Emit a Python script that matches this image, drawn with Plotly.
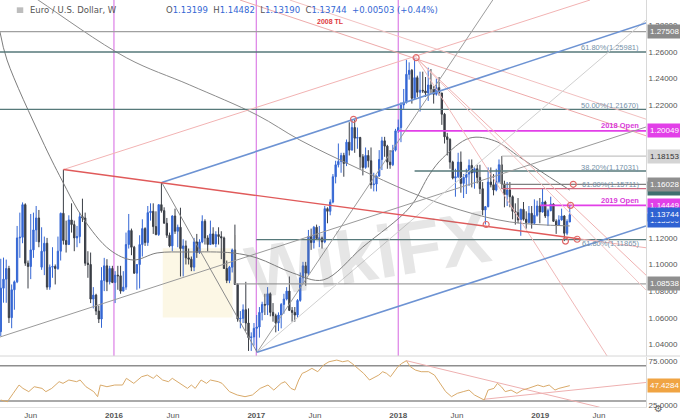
import pandas as pd
import plotly.graph_objects as go

# ---- weekly EUR/USD candles, week of 2015-03-16 .. week of 2019-03-18 ----
opens = [
    # 2015
    1.0495, 1.0822, 1.0890, 1.0970, 1.0600, 1.0810, 1.0870, 1.1200, 1.1205, 1.1450,
    1.1010, 1.0985, 1.1110, 1.1260, 1.1350, 1.0980, 1.1100, 1.1160, 1.0830, 1.0980,
    1.0985, 1.0970, 1.1100, 1.1385, 1.1180, 1.1150, 1.1335, 1.1300, 1.1200, 1.1210,
    1.1360, 1.1350, 1.1010, 1.1000, 1.0740, 1.0770, 1.0650, 1.0590, 1.0880, 1.0990,
    1.0870, 1.0970,
    # 2016
    1.0865, 1.0920, 1.0915, 1.0800, 1.0830, 1.1150, 1.1255, 1.1130, 1.0935, 1.1000,
    1.1150, 1.1270, 1.1165, 1.1390, 1.1400, 1.1285, 1.1225, 1.1450, 1.1405, 1.1310,
    1.1220, 1.1140, 1.1365, 1.1250, 1.1280, 1.1120, 1.1140, 1.1050, 1.1040, 1.0980,
    1.1170, 1.1090, 1.1170, 1.1325, 1.1200, 1.1150, 1.1230, 1.1155, 1.1225, 1.1210,
    1.1200, 1.0970, 1.0880, 1.0980, 1.1110, 1.0850, 1.0590, 1.0595, 1.0660, 1.0560,
    1.0450, 1.0455,
    # 2017
    1.0520, 1.0530, 1.0640, 1.0700, 1.0695, 1.0780, 1.0640, 1.0615, 1.0560, 1.0620,
    1.0700, 1.0740, 1.0800, 1.0655, 1.0640, 1.0620, 1.0730, 1.0900, 1.0990, 1.0935,
    1.1210, 1.1165, 1.1280, 1.1195, 1.1200, 1.1170, 1.1420, 1.1400, 1.1470, 1.1660,
    1.1750, 1.1775, 1.1820, 1.1760, 1.1920, 1.1860, 1.2030, 1.1950, 1.1955, 1.1810,
    1.1730, 1.1820, 1.1780, 1.1600, 1.1605, 1.1665, 1.1790, 1.1930, 1.1890, 1.1770,
    1.1750, 1.1860,
    # 2018
    1.2005, 1.2030, 1.2200, 1.2220, 1.2430, 1.2460, 1.2250, 1.2405, 1.2295, 1.2310,
    1.2305, 1.2290, 1.2350, 1.2320, 1.2280, 1.2330, 1.2290, 1.2130, 1.1960, 1.1940,
    1.1770, 1.1650, 1.1660, 1.1770, 1.1610, 1.1655, 1.1680, 1.1745, 1.1690, 1.1720,
    1.1655, 1.1570, 1.1410, 1.1435, 1.1620, 1.1600, 1.1560, 1.1625, 1.1750, 1.1605,
    1.1525, 1.1560, 1.1510, 1.1400, 1.1390, 1.1335, 1.1415, 1.1340, 1.1315, 1.1385,
    1.1310, 1.1370, 1.1440,
    # 2019
    1.1395, 1.1470, 1.1365, 1.1405, 1.1455, 1.1325, 1.1295, 1.1335, 1.1365, 1.1235,
    1.13199,
]
highs = [
    1.1043, 1.1052, 1.1037, 1.0990, 1.0850, 1.0880, 1.1290, 1.1390, 1.1467, 1.1460,
    1.1030, 1.1380, 1.1390, 1.1440, 1.1410, 1.1280, 1.1210, 1.1200, 1.1000, 1.1130,
    1.1000, 1.1210, 1.1390, 1.1714, 1.1330, 1.1370, 1.1460, 1.1330, 1.1290, 1.1390,
    1.1495, 1.1390, 1.1100, 1.1090, 1.0830, 1.0780, 1.0690, 1.0980, 1.1050, 1.1040,
    1.0990, 1.0990,
    1.0950, 1.0990, 1.0990, 1.0950, 1.1240, 1.1380, 1.1270, 1.1140, 1.1000, 1.1220,
    1.1340, 1.1280, 1.1440, 1.1460, 1.1460, 1.1400, 1.1450, 1.1616, 1.1430, 1.1350,
    1.1240, 1.1370, 1.1420, 1.1300, 1.1427, 1.1190, 1.1180, 1.1120, 1.1060, 1.1200,
    1.1230, 1.1190, 1.1370, 1.1340, 1.1220, 1.1330, 1.1280, 1.1250, 1.1280, 1.1250,
    1.1210, 1.1030, 1.0990, 1.1120, 1.1300, 1.0860, 1.0650, 1.0700, 1.0870, 1.0670,
    1.0490, 1.0560,
    1.0620, 1.0680, 1.0720, 1.0780, 1.0830, 1.0790, 1.0710, 1.0630, 1.0640, 1.0710,
    1.0780, 1.0830, 1.0910, 1.0680, 1.0680, 1.0740, 1.0940, 1.1020, 1.1020, 1.1260,
    1.1270, 1.1290, 1.1300, 1.1290, 1.1210, 1.1440, 1.1430, 1.1490, 1.1680, 1.1780,
    1.1910, 1.1840, 1.1840, 1.1940, 1.2070, 1.2092, 1.2090, 1.2030, 1.1960, 1.1830,
    1.1880, 1.1860, 1.1880, 1.1690, 1.1670, 1.1860, 1.1960, 1.1960, 1.1900, 1.1860,
    1.1900, 1.2020,
    1.2090, 1.2220, 1.2320, 1.2540, 1.2520, 1.2470, 1.2555, 1.2420, 1.2450, 1.2450,
    1.2410, 1.2480, 1.2470, 1.2340, 1.2400, 1.2410, 1.2290, 1.2140, 1.1990, 1.1950,
    1.1780, 1.1720, 1.1840, 1.1850, 1.1680, 1.1720, 1.1790, 1.1790, 1.1730, 1.1750,
    1.1750, 1.1620, 1.1440, 1.1730, 1.1730, 1.1680, 1.1720, 1.1790, 1.1815, 1.1630,
    1.1620, 1.1620, 1.1520, 1.1460, 1.1500, 1.1420, 1.1470, 1.1400, 1.1440, 1.1440,
    1.1490, 1.1480, 1.1500,
    1.1570, 1.1480, 1.1420, 1.1510, 1.1460, 1.1340, 1.1370, 1.1420, 1.1370, 1.1340,
    1.14482,
]
lows = [
    1.0462, 1.0713, 1.0712, 1.0560, 1.0521, 1.0660, 1.0860, 1.1050, 1.1160, 1.0990,
    1.0820, 1.0890, 1.1050, 1.1170, 1.1130, 1.0960, 1.0920, 1.0810, 1.0810, 1.0900,
    1.0850, 1.0960, 1.1030, 1.1150, 1.1090, 1.1150, 1.1240, 1.1100, 1.1130, 1.1160,
    1.1320, 1.0990, 1.0900, 1.0710, 1.0670, 1.0620, 1.0560, 1.0524, 1.0800, 1.0800,
    1.0850, 1.0860,
    1.0710, 1.0810, 1.0780, 1.0800, 1.0810, 1.1120, 1.1070, 1.0930, 1.0810, 1.0820,
    1.1060, 1.1140, 1.1140, 1.1330, 1.1230, 1.1220, 1.1215, 1.1390, 1.1310, 1.1200,
    1.1130, 1.1100, 1.1230, 1.1130, 1.0910, 1.0910, 1.1000, 1.1000, 1.0950, 1.0950,
    1.1050, 1.1080, 1.1160, 1.1150, 1.1100, 1.1150, 1.1150, 1.1130, 1.1150, 1.1040,
    1.0970, 1.0860, 1.0860, 1.0940, 1.0850, 1.0570, 1.0520, 1.0560, 1.0500, 1.0350,
    1.0350, 1.0390,
    1.0340, 1.0450, 1.0580, 1.0620, 1.0620, 1.0610, 1.0570, 1.0490, 1.0500, 1.0520,
    1.0630, 1.0730, 1.0650, 1.0570, 1.0570, 1.0600, 1.0720, 1.0860, 1.0840, 1.0920,
    1.1110, 1.1120, 1.1190, 1.1130, 1.1120, 1.1160, 1.1310, 1.1370, 1.1460, 1.1610,
    1.1730, 1.1690, 1.1660, 1.1740, 1.1820, 1.1860, 1.1840, 1.1870, 1.1720, 1.1670,
    1.1720, 1.1730, 1.1570, 1.1550, 1.1550, 1.1660, 1.1710, 1.1810, 1.1720, 1.1720,
    1.1740, 1.1850,
    1.1990, 1.1920, 1.2170, 1.2210, 1.2390, 1.2210, 1.2240, 1.2260, 1.2150, 1.2290,
    1.2260, 1.2230, 1.2290, 1.2210, 1.2270, 1.2270, 1.2050, 1.1910, 1.1820, 1.1720,
    1.1640, 1.1510, 1.1650, 1.1540, 1.1500, 1.1530, 1.1590, 1.1580, 1.1570, 1.1610,
    1.1530, 1.1370, 1.1301, 1.1430, 1.1580, 1.1520, 1.1550, 1.1610, 1.1570, 1.1430,
    1.1440, 1.1430, 1.1340, 1.1300, 1.1310, 1.1216, 1.1330, 1.1270, 1.1310, 1.1270,
    1.1300, 1.1360, 1.1310,
    1.1390, 1.1350, 1.1290, 1.1400, 1.1320, 1.1230, 1.1290, 1.1330, 1.1176, 1.1220,
    1.13190,
]
closes = [
    1.0822, 1.0890, 1.0970, 1.0600, 1.0810, 1.0870, 1.1200, 1.1205, 1.1450, 1.1010,
    1.0985, 1.1110, 1.1260, 1.1350, 1.1170, 1.1100, 1.1160, 1.0830, 1.0980, 1.0985,
    1.0970, 1.1100, 1.1385, 1.1180, 1.1150, 1.1335, 1.1300, 1.1200, 1.1210, 1.1360,
    1.1350, 1.1010, 1.1000, 1.0740, 1.0770, 1.0650, 1.0590, 1.0880, 1.0990, 1.0870,
    1.0970, 1.0865,
    1.0920, 1.0915, 1.0800, 1.0830, 1.1150, 1.1255, 1.1130, 1.0935, 1.1000, 1.1150,
    1.1270, 1.1165, 1.1390, 1.1400, 1.1285, 1.1225, 1.1450, 1.1405, 1.1310, 1.1220,
    1.1140, 1.1365, 1.1250, 1.1280, 1.1120, 1.1140, 1.1050, 1.1040, 1.0980, 1.1170,
    1.1090, 1.1170, 1.1325, 1.1200, 1.1150, 1.1230, 1.1155, 1.1225, 1.1210, 1.1200,
    1.0970, 1.0880, 1.0980, 1.1110, 1.0850, 1.0590, 1.0595, 1.0660, 1.0560, 1.0450,
    1.0455, 1.0520,
    1.0530, 1.0640, 1.0700, 1.0695, 1.0780, 1.0640, 1.0615, 1.0560, 1.0620, 1.0700,
    1.0740, 1.0800, 1.0655, 1.0640, 1.0620, 1.0730, 1.0900, 1.0990, 1.0935, 1.1210,
    1.1165, 1.1280, 1.1195, 1.1200, 1.1170, 1.1420, 1.1400, 1.1470, 1.1660, 1.1750,
    1.1775, 1.1820, 1.1760, 1.1920, 1.1860, 1.2030, 1.1950, 1.1955, 1.1810, 1.1730,
    1.1820, 1.1780, 1.1600, 1.1605, 1.1665, 1.1790, 1.1930, 1.1890, 1.1770, 1.1750,
    1.1860, 1.2005,
    1.2030, 1.2200, 1.2220, 1.2430, 1.2460, 1.2250, 1.2405, 1.2295, 1.2310, 1.2305,
    1.2290, 1.2350, 1.2320, 1.2280, 1.2330, 1.2290, 1.2130, 1.1960, 1.1940, 1.1770,
    1.1650, 1.1660, 1.1770, 1.1610, 1.1655, 1.1680, 1.1745, 1.1690, 1.1720, 1.1655,
    1.1570, 1.1410, 1.1435, 1.1620, 1.1600, 1.1560, 1.1625, 1.1750, 1.1605, 1.1525,
    1.1560, 1.1510, 1.1400, 1.1390, 1.1335, 1.1415, 1.1340, 1.1315, 1.1385, 1.1310,
    1.1370, 1.1440, 1.1395,
    1.1470, 1.1365, 1.1405, 1.1455, 1.1325, 1.1295, 1.1335, 1.1365, 1.1235, 1.1324,
    1.13744,
]
assert len(opens) == len(highs) == len(lows) == len(closes)
weeks = pd.date_range("2015-03-16", periods=len(closes), freq="W-MON")

# moving averages
sma52_dates = ["2015-03-14", "2015-04-01", "2015-06-30", "2015-08-20", "2015-10-13",
               "2015-12-22", "2016-02-19", "2016-04-21", "2016-07-07", "2016-11-02",
               "2017-01-03", "2017-04-05", "2017-06-22", "2017-10-02", "2018-01-31",
               "2018-03-23", "2018-04-25", "2018-07-04", "2018-09-06", "2018-11-09",
               "2019-01-13", "2019-03-18"]
sma52_vals = [1.2748, 1.2538, 1.1936, 1.1635, 1.1350, 1.1109, 1.1034, 1.1087, 1.1094,
              1.1087, 1.1049, 1.0936, 1.0884, 1.1132, 1.1431, 1.1680, 1.1800, 1.1951,
              1.1930, 1.1808, 1.1680, 1.1560]
sma200_dates = ["2015-03-16", "2015-06-20", "2016-02-03", "2016-07-14", "2017-01-03",
                "2017-04-23", "2017-09-17", "2018-01-31", "2018-06-09", "2018-10-15",
                "2019-03-18"]
sma200_vals = [1.318, 1.2989, 1.2553, 1.2350, 1.2124, 1.1936, 1.1726, 1.1545, 1.1410,
               1.1320, 1.1290]

# RSI(14) pane
rsi_dates = ["2015-03-16", "2015-04-02", "2015-04-17", "2015-05-02", "2015-05-12",
             "2015-05-27", "2015-06-10", "2015-06-30", "2015-07-10", "2015-07-25",
             "2015-08-13", "2015-08-23", "2015-09-07", "2015-09-27", "2015-10-06",
             "2015-10-21", "2015-11-10", "2015-11-20", "2015-11-27", "2015-12-14",
             "2016-01-03", "2016-01-23", "2016-02-02", "2016-02-21", "2016-03-12",
             "2016-03-27", "2016-04-11", "2016-04-20", "2016-05-05", "2016-05-20",
             "2016-05-30", "2016-06-18", "2016-07-08", "2016-07-18", "2016-07-28",
             "2016-08-12", "2016-08-26", "2016-09-05", "2016-09-25", "2016-10-05",
             "2016-10-24", "2016-11-13", "2016-12-03", "2016-12-22",
             "2017-01-11", "2017-01-31", "2017-02-15", "2017-03-06", "2017-03-16",
             "2017-03-31", "2017-04-10", "2017-04-20", "2017-04-29", "2017-05-09",
             "2017-05-24", "2017-06-08", "2017-06-23", "2017-07-07", "2017-07-27",
             "2017-08-11", "2017-08-25", "2017-09-04", "2017-09-19", "2017-10-04",
             "2017-10-19", "2017-11-02", "2017-11-12", "2017-11-22", "2017-12-02",
             "2017-12-12", "2017-12-31",
             "2018-01-10", "2018-01-22", "2018-02-01", "2018-02-14", "2018-03-01",
             "2018-03-20", "2018-04-04", "2018-04-19", "2018-05-03", "2018-05-18",
             "2018-06-02", "2018-06-17", "2018-07-02", "2018-07-16", "2018-07-31",
             "2018-08-10", "2018-08-20", "2018-09-04", "2018-09-13", "2018-09-23",
             "2018-10-03", "2018-10-18", "2018-11-02", "2018-11-16", "2018-12-01",
             "2018-12-16", "2018-12-26",
             "2019-01-09", "2019-01-24", "2019-02-08", "2019-02-18", "2019-03-18"]
rsi_vals = [31.1, 29.2, 38.7, 48.1, 44.3, 40.6, 46.2, 44.3, 40.6, 44.3,
            51.9, 50.0, 53.8, 51.9, 53.8, 46.2, 40.6, 34.9, 48.1, 46.2,
            48.1, 48.1, 55.7, 50.0, 57.5, 59.4, 55.7, 59.4, 53.8, 51.9,
            55.7, 50.0, 44.3, 48.1, 44.3, 53.8, 50.0, 53.8, 51.9, 50.0,
            40.6, 36.8, 34.9, 36.8,
            44.3, 48.1, 42.4, 50.0, 51.9, 44.3, 42.4, 53.8, 61.3, 63.2,
            67.0, 63.2, 70.8, 74.5, 76.4, 74.5, 75.7, 72.6, 67.0, 61.3,
            53.8, 57.5, 59.4, 63.2, 61.3, 57.5, 68.9,
            72.6, 75.7, 68.9, 65.1, 63.2, 63.2, 59.4, 50.0, 40.6, 34.9,
            38.7, 40.6, 42.4, 36.8, 33.0, 31.1, 42.4, 44.3, 50.0, 46.2,
            40.6, 42.4, 38.7, 42.4, 44.3, 46.2, 48.1,
            46.2, 48.1, 42.4, 44.3, 47.4]
assert len(rsi_dates) == len(rsi_vals)
rsi_levels = [70, 30]
rsi_tl_down = (["2018-01-22", "2019-06-03"], [75.7, 22.9])
rsi_tl_up = (["2018-08-10", "2019-09-30"], [32.0, 51.0])

# drawn trendlines: ([start, end], [price start, price end])
tl_2015 = (["2015-08-24", "2019-04-14"], [1.1714, 1.1192])
tl_2015_ext = (["2019-04-14", "2019-09-30"], [1.1192, 1.1126])
tl_2015_up = (["2015-08-24", "2019-05-09"], [1.1714, 1.2989])
tl_2008 = (["2016-11-20", "2019-09-30"], [1.2989, 1.1968])
tl_2008_b = (["2017-03-28", "2019-09-30"], [1.2989, 1.2093])
ch_upper = (["2016-05-03", "2019-09-30"], [1.1616, 1.2816])
ch_lower = (["2017-01-03", "2019-09-30"], [1.0340, 1.1290])
ch_mid = (["2015-03-14", "2019-09-30"], [1.0455, 1.2034])
ch_handle = (["2016-05-03", "2017-01-03"], [1.1616, 1.0340])
fan_steep = (["2017-01-03", "2018-09-01"], [1.0340, 1.2989])
fan_wide = (["2017-01-03", "2019-09-30"], [1.0340, 1.2838])
drop_a = (["2018-02-16", "2019-09-30"], [1.2555, 1.0920])
drop_b = (["2018-02-16", "2019-09-30"], [1.2555, 1.0808])
drop_c = (["2018-02-16", "2019-06-22"], [1.2555, 1.0312])

# horizontal levels
level_prices = [1.27508, 1.25981, 1.21670, 1.20049, 1.18153, 1.17031,
                1.16028, 1.15711, 1.14449, 1.11865, 1.08538]
level_starts = ["2015-03-14", "2015-03-14", "2015-03-14", "2018-01-01", "2018-09-24",
                "2018-02-12", "2018-09-24", "2018-09-24", "2019-01-01", "2017-01-01",
                "2016-11-07"]
level_colors = ["#a0a0a0", "#56797a", "#56797a", "#e23fe8", "#c4c4c4", "#56797a",
                "#808080", "#d06a80", "#e23fe8", "#56797a", "#a0a0a0"]
short_vert = [("2016-11-07", [1.0854, 1.1222]), ("2018-09-24", [1.1567, 1.1815])]
year_lines = ["2016-01-01", "2017-01-01", "2018-01-01"]

fib_labels = ["61.80%(1.25981)", "50.00%(1.21670)", "38.20%(1.17031)",
              "61.80%(1.15711)", "61.80%(1.11865)"]
fib_label_prices = [1.25981, 1.21670, 1.17031, 1.15711, 1.11865]
open_labels = ["2018 Open", "2019 Open"]
open_prices = [1.20049, 1.14449]

circle_dates = ["2018-02-16", "2017-09-08", "2018-08-15", "2019-03-07",
                "2019-04-06", "2019-03-27", "2019-03-20"]
circle_prices = [1.2555, 1.2092, 1.1301, 1.1176, 1.1190, 1.1603, 1.1445]

tag_texts = ["1.27508", "1.20049", "1.18153", "1.15711", "1.16028",
             "1.14449", "1.13300", "1.13744", "1.08538"]
tag_prices = [1.27508, 1.20049, 1.18153, 1.15711, 1.16028,
              1.14449, 1.13300, 1.13744, 1.08538]
tag_bg = ["#8a8a8a", "#e23fe8", "#d4d4d4", "#3f6e6f", "#8f8f8f",
          "#e23fe8", "#2f62d2", "#2f62d2", "#8f8f8f"]
tag_fg = ["white", "white", "#333", "white", "white",
          "white", "white", "white", "white"]

price_ticks = [1.04, 1.06, 1.08, 1.10, 1.12, 1.14, 1.16, 1.18, 1.20, 1.22, 1.24, 1.26, 1.28]
x_tick_dates = ["2015-06-01", "2016-01-01", "2016-06-01", "2017-01-01", "2017-06-01",
                "2018-01-01", "2018-06-01", "2019-01-01", "2019-06-01"]
x_tick_text = ["Jun", "<b>2016</b>", "Jun", "<b>2017</b>", "Jun",
               "<b>2018</b>", "Jun", "<b>2019</b>", "Jun"]

X_END = "2019-09-30"
FONT = "Liberation Sans"

fig = go.Figure()


def seg(line, color, width=1.0, yaxis="y"):
    xs, ys = line
    fig.add_trace(go.Scatter(x=xs, y=ys, mode="lines", yaxis=yaxis,
                             line=dict(color=color, width=width), hoverinfo="skip"))


# moving averages
fig.add_trace(go.Scatter(x=sma200_dates, y=sma200_vals, mode="lines", line_shape="spline",
                         line=dict(color="#8c8c8c", width=1), hoverinfo="skip"))
fig.add_trace(go.Scatter(x=sma52_dates, y=sma52_vals, mode="lines", line_shape="spline",
                         line=dict(color="#7d7d7d", width=1), hoverinfo="skip"))

# horizontal levels
for p, s, c in zip(level_prices, level_starts, level_colors):
    w = 1.6 if c == "#e23fe8" else 1.3
    seg(([s, X_END], [p, p]), c, w)
for d, ys in short_vert:
    seg(([d, d], ys), "#8a8a8a", 1)

# trendlines
seg(tl_2015_up, "#f2b3b3", 1)
seg(tl_2008, "#eeaaaa", 1)
seg(tl_2008_b, "#f2c0c0", 1)
seg(drop_a, "#efb0b0", 1)
seg(drop_b, "#f2c4c4", 1)
seg(drop_c, "#f0b8b8", 1)
seg(ch_mid, "#9a9a9a", 1)
seg(ch_handle, "#8a8a8a", 1)
seg(fan_steep, "#9c9c9c", 1)
seg(fan_wide, "#d0d0d0", 1)
seg(ch_upper, "#6d93d3", 1.6)
seg(ch_lower, "#6d93d3", 1.6)
seg(tl_2015, "#e05a5a", 1.4)
seg(tl_2015_ext, "#f0b0b0", 1)

# candles
fig.add_trace(go.Candlestick(
    x=weeks, open=opens, high=highs, low=lows, close=closes,
    increasing=dict(line=dict(color="#3567d4", width=1), fillcolor="#3567d4"),
    decreasing=dict(line=dict(color="#3a3e46", width=1), fillcolor="#3a3e46"),
    whiskerwidth=0, hoverinfo="skip"))

fig.add_trace(go.Scatter(x=circle_dates, y=circle_prices, mode="markers",
                         marker=dict(symbol="circle-open", size=6, color="#e06a6a",
                                     line=dict(width=1.2)), hoverinfo="skip"))

# RSI pane
for lv in rsi_levels:
    seg((["2015-03-14", X_END], [lv, lv]), "#8e8e8e", 1.6, "y2")
seg(rsi_tl_down, "#eeb0b0", 1, "y2")
seg(rsi_tl_up, "#eeb0b0", 1, "y2")
fig.add_trace(go.Scatter(x=rsi_dates, y=rsi_vals, mode="lines", yaxis="y2",
                         line=dict(color="#d9aa6a", width=1), hoverinfo="skip"))

shapes = []
for d in year_lines:
    shapes.append(dict(type="line", xref="x", yref="y", x0=d, x1=d, y0=1.0312, y1=1.2989,
                       line=dict(color="#dc7fe6", width=1.2), layer="below"))
# pane separator
shapes.append(dict(type="line", xref="paper", yref="paper", x0=0, x1=1.06,
                   y0=0.1253, y1=0.1253, line=dict(color="#d6d6d6", width=1)))
# watermark logo tile
shapes.append(dict(type="rect", xref="paper", yref="paper", x0=0.252, x1=0.36,
                   y0=0.22, y1=0.39, fillcolor="rgba(246,228,170,0.3)",
                   line=dict(width=0), layer="below"))
# header icon
shapes.append(dict(type="rect", xref="paper", yref="paper", x0=0.026, x1=0.036,
                   y0=0.968, y1=0.982, fillcolor="#bdbdbd", line=dict(width=0)))

ann = []
ann.append(dict(text="<b>WikiFX</b>", xref="paper", yref="paper", x=0.57, y=0.375,
                showarrow=False, textangle=-9,
                font=dict(family=FONT, size=74, color="rgba(120,120,120,0.19)")))
ann.append(dict(text="Euro / U.S. Dollar, W", xref="paper", yref="paper", x=0.043,
                y=0.9754, xanchor="left", yanchor="middle", showarrow=False,
                font=dict(family="DejaVu Sans", size=8.5, color="#555")))
blue = "<span style='color:#3567d4'>%s</span>"
ohlc = ("O" + blue % "1.13199" + "  H" + blue % "1.14482" + "  L" + blue % "1.13190"
        + "  C" + blue % "1.13744" + "  " + blue % "+0.00503 (+0.44%)")
ann.append(dict(text=ohlc, xref="paper", yref="paper", x=0.254, y=0.9754,
                xanchor="left", yanchor="middle", showarrow=False,
                font=dict(family="DejaVu Sans", size=8.5, color="#555")))
ann.append(dict(text="<b>2008 TL</b>", xref="x", yref="y", x="2017-07-10", y=1.2831,
                showarrow=False, font=dict(family=FONT, size=7, color="#e0393e")))
for t, p in zip(fib_labels, fib_label_prices):
    ann.append(dict(text=t, xref="paper", yref="y", x=0.992, y=p, xanchor="right",
                    yanchor="middle", yshift=-4 if p < 1.12 else 4, showarrow=False,
                    font=dict(family=FONT, size=7.5, color="#7591a8")))
for t, p in zip(open_labels, open_prices):
    ann.append(dict(text="<b>" + t + "</b>", xref="paper", yref="y", x=0.992, y=p,
                    xanchor="right", yanchor="middle", yshift=5, showarrow=False,
                    font=dict(family=FONT, size=7.5, color="#d93ad9")))
for t, p, bg, fg in zip(tag_texts, tag_prices, tag_bg, tag_fg):
    ann.append(dict(text=t, xref="paper", yref="y", x=1.0, y=p, xanchor="left",
                    yanchor="middle", xshift=1, showarrow=False, bgcolor=bg, borderpad=2,
                    font=dict(family=FONT, size=8, color=fg)))
ann.append(dict(text="47.4284", xref="paper", yref="y2", x=1.0, y=47.43, xanchor="left",
                yanchor="middle", xshift=1, showarrow=False, bgcolor="#f0a443",
                borderpad=2, font=dict(family=FONT, size=8, color="white")))
ann.append(dict(text="⚙", xref="paper", yref="paper", x=1.029, y=-0.022,
                showarrow=False, font=dict(family="DejaVu Sans", size=10, color="#666")))

fig.update_layout(
    width=680, height=420,
    margin=dict(l=0, r=34, t=0, b=13),
    paper_bgcolor="white", plot_bgcolor="white",
    showlegend=False,
    shapes=shapes, annotations=ann,
    xaxis=dict(type="date", range=["2015-03-14", X_END], anchor="y2",
               tickvals=x_tick_dates, ticktext=x_tick_text, ticks="",
               tickfont=dict(family=FONT, size=8, color="#555"),
               showgrid=False, zeroline=False, showline=True, linecolor="#e2e2e2",
               rangeslider=dict(visible=False)),
    yaxis=dict(domain=[0.1253, 1], range=[1.0312, 1.2989], side="right",
               tickvals=price_ticks, ticktext=["%.5f" % v for v in price_ticks],
               ticks="", tickfont=dict(family=FONT, size=8, color="#555"),
               showgrid=False, zeroline=False, showline=True, linecolor="#d8d8d8"),
    yaxis2=dict(domain=[0, 0.1229], range=[23.2, 79.9], side="right",
                tickvals=[25, 75], ticktext=["25.0000", "75.0000"], ticks="",
                tickfont=dict(family=FONT, size=8, color="#555"),
                showgrid=False, zeroline=False, showline=True, linecolor="#d8d8d8"),
)

# browser default body margin would shift the 680x420 figure
fig.write_html("out.html", config={"displayModeBar": False},
               post_script="document.body.style.margin='0';")
